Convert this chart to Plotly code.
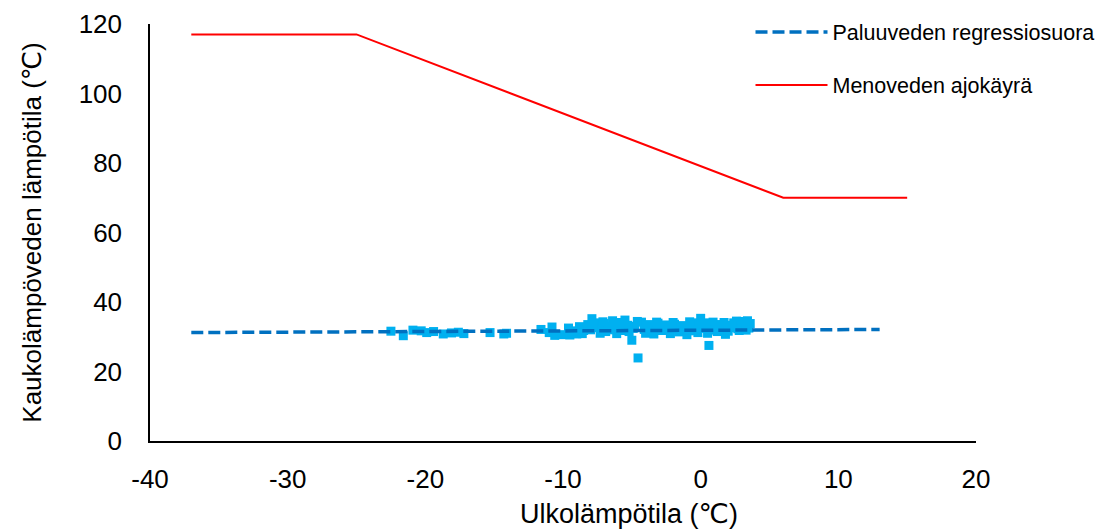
import plotly.graph_objects as go

# Menoveden ajokäyrä (supply curve)
supply_x = [-37, -25, 6, 15]
supply_y = [117, 117, 70, 70]

# Paluuveden regressiosuora (return regression line endpoints)
reg_x = [-37, 13]
reg_y = [31.2, 32.1]

# Measured return water temperatures (scatter)
meas_x = [-22.5, -21.6, -20.9, -20.3, -19.9, -19.4, -18.7, -18.1, -17.6, -17.2,
          -15.3, -14.3, -14.1,
          -11.6, -10.8, -10.6, -10.1, -9.6, -9.5, -9.0, -8.8, -8.5, -8.2, -7.9,
          -7.6, -7.3, -7.0, -6.7, -6.4, -6.1, -5.8, -5.5, -5.2, -5.0, -4.8,
          -4.55, -4.3, -4.0, -3.7, -3.4, -3.1, -2.8, -2.5, -2.2, -1.9, -1.6,
          -1.3, -1.0, -0.7, -0.4, -0.2, 0.0, 0.3, 0.6, 0.5, 0.9, 1.2, 1.5,
          1.8, 2.1, 2.4, 2.6, 2.8, 3.1, 3.4, 3.5,
          -8.0, -7.4, -6.9, -6.2, -5.6, -4.9, -4.1, -3.5, -2.9, -2.3, -1.7,
          -1.1, -0.5, 0.2, 0.8, 1.4, 2.0, 2.7, 3.3,
          -7.8, -7.1, -6.5, -5.9, -5.3, -4.6, -3.9, -3.2, -2.6, -2.0, -1.4,
          -0.8, -0.1, 0.4, 1.1, 1.7, 2.3, 3.0, 3.6, -11.0, -9.3, -8.6]
meas_y = [31.6, 30.3, 31.9, 31.7, 31.2, 31.5, 30.8, 31.1, 31.3, 30.9,
          31.2, 30.8, 31.0,
          32.1, 32.8, 30.4, 30.6, 32.5, 30.5, 30.8, 32.9, 31.8, 33.5, 35.2,
          34.0, 31.0, 33.8, 32.0, 34.6, 30.9, 33.4, 34.8, 31.5, 29.0, 33.0,
          23.9, 34.2, 31.0, 33.5, 30.8, 33.9, 31.8, 33.0, 30.9, 33.6, 31.4,
          33.2, 30.6, 32.5, 34.0, 31.2, 35.3, 33.0, 27.5, 31.0, 34.2, 31.5, 33.4,
          30.7, 32.6, 34.0, 34.5, 31.8, 33.6, 34.6, 32.5,
          32.0, 32.6, 31.5, 32.2, 31.8, 32.4, 32.1, 31.6, 32.3, 31.9, 32.5,
          32.0, 31.7, 32.4, 31.9, 32.2, 31.6, 32.3, 31.9,
          33.2, 34.3, 33.0, 34.1, 33.3, 34.4, 33.1, 34.2, 33.4, 34.1, 33.0,
          34.3, 33.2, 34.0, 33.5, 34.1, 33.3, 34.4, 33.8, 31.2, 31.7, 30.9]

x_ticks = [-40, -30, -20, -10, 0, 10, 20]
x_tick_labels = ["-40", "-30", "-20", "-10", "0", "10", "20"]
y_ticks = [0, 20, 40, 60, 80, 100, 120]

FONT = "Liberation Sans, Arial, DejaVu Sans, sans-serif"

fig = go.Figure()

fig.add_trace(go.Scatter(
    x=meas_x, y=meas_y, mode="markers",
    marker=dict(symbol="square", size=9, color="#00B0F0", line=dict(width=0)),
    showlegend=False, hoverinfo="x+y"))

fig.add_trace(go.Scatter(
    x=reg_x, y=reg_y, mode="lines", name="Paluuveden regressiosuora",
    line=dict(color="#0070C0", width=3.5, dash="12px,5px"),
    legendgroup="a"))

fig.add_trace(go.Scatter(
    x=supply_x, y=supply_y, mode="lines", name="Menoveden ajokäyrä",
    line=dict(color="#FF0000", width=2),
    legendgroup="b"))

fig.add_annotation(
    text="Ulkolämpötila (℃)", xref="paper", yref="paper",
    x=0.58, y=-0.176, xanchor="center", yanchor="middle",
    showarrow=False, font=dict(family=FONT, size=27, color="black"))

fig.update_layout(
    width=1109, height=532,
    margin=dict(l=150, r=133, t=24, b=91, autoexpand=False),
    paper_bgcolor="white", plot_bgcolor="white",
    font=dict(family=FONT, color="black", size=26),
    showlegend=True,
    legend=dict(
        x=0.727, xanchor="left", y=1.03, yanchor="top",
        font=dict(family=FONT, size=21.5, color="black"),
        bgcolor="rgba(0,0,0,0)",
        itemwidth=72, tracegroupgap=22, traceorder="grouped",
    ),
    xaxis=dict(
        range=[-40, 20], tickvals=x_ticks, ticktext=x_tick_labels,
        showgrid=False, zeroline=False, automargin=False,
        showline=True, linecolor="black", linewidth=1.5,
        ticks="", ticklabelstandoff=14,
        tickfont=dict(size=26),
    ),
    yaxis=dict(
        range=[0, 120], tickvals=y_ticks,
        showgrid=False, zeroline=False, automargin=False,
        showline=True, linecolor="black", linewidth=1.5,
        ticks="", ticklabelstandoff=21,
        tickfont=dict(size=26),
        title=dict(text="Kaukolämpöveden lämpötila (℃)", font=dict(size=26), standoff=30),
    ),
)

fig.write_html("out.html")
